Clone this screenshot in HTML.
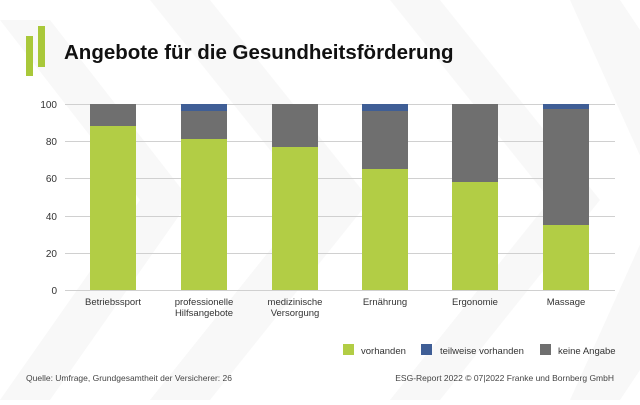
<!DOCTYPE html>
<html><head><meta charset="utf-8"><style>
body{margin:0;width:640px;height:400px;overflow:hidden;background:#fff;font-family:"Liberation Sans",sans-serif;}
</style></head><body>
<svg width="640" height="400" xmlns="http://www.w3.org/2000/svg" font-family="Liberation Sans, sans-serif">
<rect width="640" height="400" fill="#fff"/>
<g fill="#f8f8f8">
<polygon points="0,20 50,20 190,200 50,400 0,400 140,200"/>
<polygon points="150,0 210,0 370,200 210,400 150,400 310,200"/>
<polygon points="390,0 440,0 600,200 440,400 390,400 550,200"/>
<polygon points="570,0 620,0 640,30 640,370 620,400 570,400 660,200"/>
</g>
<rect x="26" y="36" width="7" height="40" fill="#a9c83a"/>
<rect x="38" y="26" width="7" height="41" fill="#a9c83a"/>
<text x="64" y="59" font-size="20.5" font-weight="bold" fill="#111">Angebote für die Gesundheitsförderung</text>
<g stroke="#d0d0d0" stroke-width="1">
<line x1="65" x2="615" y1="104.5" y2="104.5"/>
<line x1="65" x2="615" y1="141.5" y2="141.5"/>
<line x1="65" x2="615" y1="178.5" y2="178.5"/>
<line x1="65" x2="615" y1="216.5" y2="216.5"/>
<line x1="65" x2="615" y1="253.5" y2="253.5"/>
<line x1="65" x2="615" y1="290.5" y2="290.5"/>
</g>
<g font-size="10" fill="#333" text-anchor="end">
<text x="57" y="108">100</text><text x="57" y="145">80</text><text x="57" y="182">60</text><text x="57" y="220">40</text><text x="57" y="257">20</text><text x="57" y="294">0</text>
</g>
<g>
<rect x="90" y="104" width="46" height="22" fill="#6f6f6f"/><rect x="90" y="126" width="46" height="164" fill="#b2cd45"/>
<rect x="181" y="104" width="46" height="7" fill="#3f5e96"/><rect x="181" y="111" width="46" height="28" fill="#6f6f6f"/><rect x="181" y="139" width="46" height="151" fill="#b2cd45"/>
<rect x="272" y="104" width="46" height="43" fill="#6f6f6f"/><rect x="272" y="147" width="46" height="143" fill="#b2cd45"/>
<rect x="362" y="104" width="46" height="7" fill="#3f5e96"/><rect x="362" y="111" width="46" height="58" fill="#6f6f6f"/><rect x="362" y="169" width="46" height="121" fill="#b2cd45"/>
<rect x="452" y="104" width="46" height="78" fill="#6f6f6f"/><rect x="452" y="182" width="46" height="108" fill="#b2cd45"/>
<rect x="543" y="104" width="46" height="5" fill="#3f5e96"/><rect x="543" y="109" width="46" height="116" fill="#6f6f6f"/><rect x="543" y="225" width="46" height="65" fill="#b2cd45"/>
</g>
<g font-size="9.5" fill="#333" text-anchor="middle">
<text x="113" y="305">Betriebssport</text>
<text x="204" y="305">professionelle</text><text x="204" y="316">Hilfsangebote</text>
<text x="295" y="305">medizinische</text><text x="295" y="316">Versorgung</text>
<text x="385" y="305">Ernährung</text>
<text x="475" y="305">Ergonomie</text>
<text x="566" y="305">Massage</text>
</g>
<g font-size="9.5" fill="#333">
<rect x="343" y="344" width="11" height="11" fill="#b2cd45"/><text x="361" y="354">vorhanden</text>
<rect x="421" y="344" width="11" height="11" fill="#3f5e96"/><text x="440" y="354">teilweise vorhanden</text>
<rect x="540" y="344" width="11" height="11" fill="#6f6f6f"/><text x="558" y="354">keine Angabe</text>
</g>
<g font-size="8.5" fill="#444">
<text x="26" y="381">Quelle: Umfrage, Grundgesamtheit der Versicherer: 26</text>
<text x="614" y="381" text-anchor="end">ESG-Report 2022 © 07|2022 Franke und Bornberg GmbH</text>
</g>
</svg>
</body></html>
